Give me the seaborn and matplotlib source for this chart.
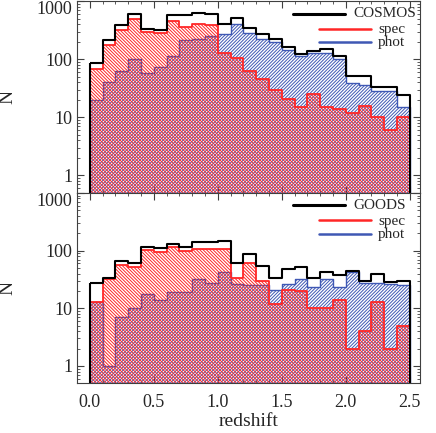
import numpy as np
import matplotlib
matplotlib.use('Agg')
import matplotlib.pyplot as plt
from matplotlib.ticker import FixedLocator, FuncFormatter, MultipleLocator, LogLocator, NullFormatter
import seaborn as sns

# redshift bins (width 0.1)
bin_edges = [0.0, 0.1, 0.2, 0.3, 0.4, 0.5, 0.6, 0.7, 0.8, 0.9, 1.0, 1.1, 1.2,
             1.3, 1.4, 1.5, 1.6, 1.7, 1.8, 1.9, 2.0, 2.1, 2.2, 2.3, 2.4, 2.5]

# COSMOS counts per bin
cosmos_total = [86, 215, 394, 611, 336, 323, 571, 587, 625, 611, 400, 511, 340,
                272, 223, 166, 124, 142, 150, 112, 52, 52, 33, 34, 24]
cosmos_spec = [68, 178, 324, 500, 295, 283, 450, 355, 405, 394, 128, 105, 62,
               45, 30, 21, 15, 25, 15, 14, 12, 16, 10, 6, 10]
cosmos_phot = [20, 41, 63, 102, 58, 75, 112, 217, 220, 248, 272, 405, 283,
               227, 198, 146, 112, 128, 131, 102, 39, 36, 28, 29, 15]

# GOODS counts per bin
goods_total = [27, 33, 66, 62, 114, 109, 130, 114, 139, 142, 148, 61, 87,
               55, 33, 48, 51, 34, 42, 37, 45, 30, 39, 28, 30]
goods_spec = [13, 32, 56, 51, 102, 95, 116, 99, 106, 106, 106, 34, 61,
              30, 12, 21, 20, 10, 10, 14, 2, 4, 13, 2, 5]
goods_phot = [13, 1, 7, 10, 18, 14, 19, 19, 32, 27, 42, 26, 25,
              25, 21, 26, 32, 23, 32, 23, 43, 27, 27, 26, 25]

y_ticks = [1, 10, 100, 1000]
x_ticks = [0.0, 0.5, 1.0, 1.5, 2.0, 2.5]

RED = '#ff2626'
BLUE = '#3f58b4'

sns.set_style('ticks')
plt.rcParams['font.family'] = ['Liberation Serif', 'DejaVu Serif']
plt.rcParams['hatch.linewidth'] = 0.7
plt.rcParams['axes.edgecolor'] = '#404040'

centers = [(a + b) / 2 for a, b in zip(bin_edges[:-1], bin_edges[1:])]


def draw_panel(ax, name, total, spec, phot):
    # phot first, spec on top -> overlap is cross-hatched
    sns.histplot(x=centers, weights=phot, bins=bin_edges, element='step', fill=True,
                 color=BLUE, facecolor='none', edgecolor=BLUE, hatch='/' * 10,
                 linewidth=1.0, ax=ax)
    sns.histplot(x=centers, weights=spec, bins=bin_edges, element='step', fill=True,
                 color=RED, facecolor='none', edgecolor=RED, hatch='\\' * 10,
                 linewidth=1.3, ax=ax)
    sns.histplot(x=centers, weights=total, bins=bin_edges, element='step', fill=True,
                 color='black', facecolor='none', edgecolor='black', linewidth=1.5, ax=ax)

    ax.set_yscale('log')
    ax.set_ylim(0.5, 1000)
    ax.set_xlim(-0.1, 2.58)
    ax.yaxis.set_major_locator(FixedLocator(y_ticks))
    ax.yaxis.set_major_formatter(FuncFormatter(lambda v, p: '%d' % v))
    ax.yaxis.set_minor_locator(LogLocator(base=10, subs=np.arange(2, 10)))
    ax.yaxis.set_minor_formatter(NullFormatter())
    ax.xaxis.set_major_locator(FixedLocator(x_ticks))
    ax.xaxis.set_minor_locator(MultipleLocator(0.1))
    ax.tick_params(which='both', direction='in', top=True, right=True,
                   labelsize=13, color='#404040')
    ax.tick_params(which='major', length=5, width=0.8)
    ax.tick_params(which='minor', length=2.5, width=0.6)
    ax.tick_params(axis='x', which='major', pad=8)
    ax.set_ylabel('N', fontsize=14)
    ax.yaxis.set_label_coords(-0.176, 0.5)
    ax.set_xlabel('')
    # top label sits below its tick, as in the original
    ax.yaxis.get_major_ticks()[-1].label1.set_verticalalignment('top')

    # key in the upper right corner
    ax.plot([0.630, 0.781], [0.934, 0.934], color='black', lw=2.2, transform=ax.transAxes)
    ax.text(0.806, 0.934, name, fontsize=11, va='center', ha='left', transform=ax.transAxes)
    ax.plot([0.706, 0.857], [0.856, 0.856], color=RED, lw=1.8, transform=ax.transAxes)
    ax.text(0.878, 0.852, 'spec', fontsize=11, va='center', ha='left', transform=ax.transAxes)
    ax.plot([0.706, 0.857], [0.786, 0.786], color=BLUE, lw=1.8, transform=ax.transAxes)
    ax.text(0.878, 0.784, 'phot', fontsize=11, va='center', ha='left', transform=ax.transAxes)


fig = plt.figure(figsize=(4.36, 4.33), dpi=100)
ax_top = fig.add_axes([0.1766, 0.5545, 0.7867, 0.4425])
ax_bot = fig.add_axes([0.1766, 0.1148, 0.7867, 0.4397])

draw_panel(ax_top, 'COSMOS', cosmos_total, cosmos_spec, cosmos_phot)
draw_panel(ax_bot, 'GOODS', goods_total, goods_spec, goods_phot)

ax_top.tick_params(labelbottom=False)
ax_bot.set_xlabel('redshift', fontsize=14, labelpad=1)

fig.savefig('out.png', dpi=100)
